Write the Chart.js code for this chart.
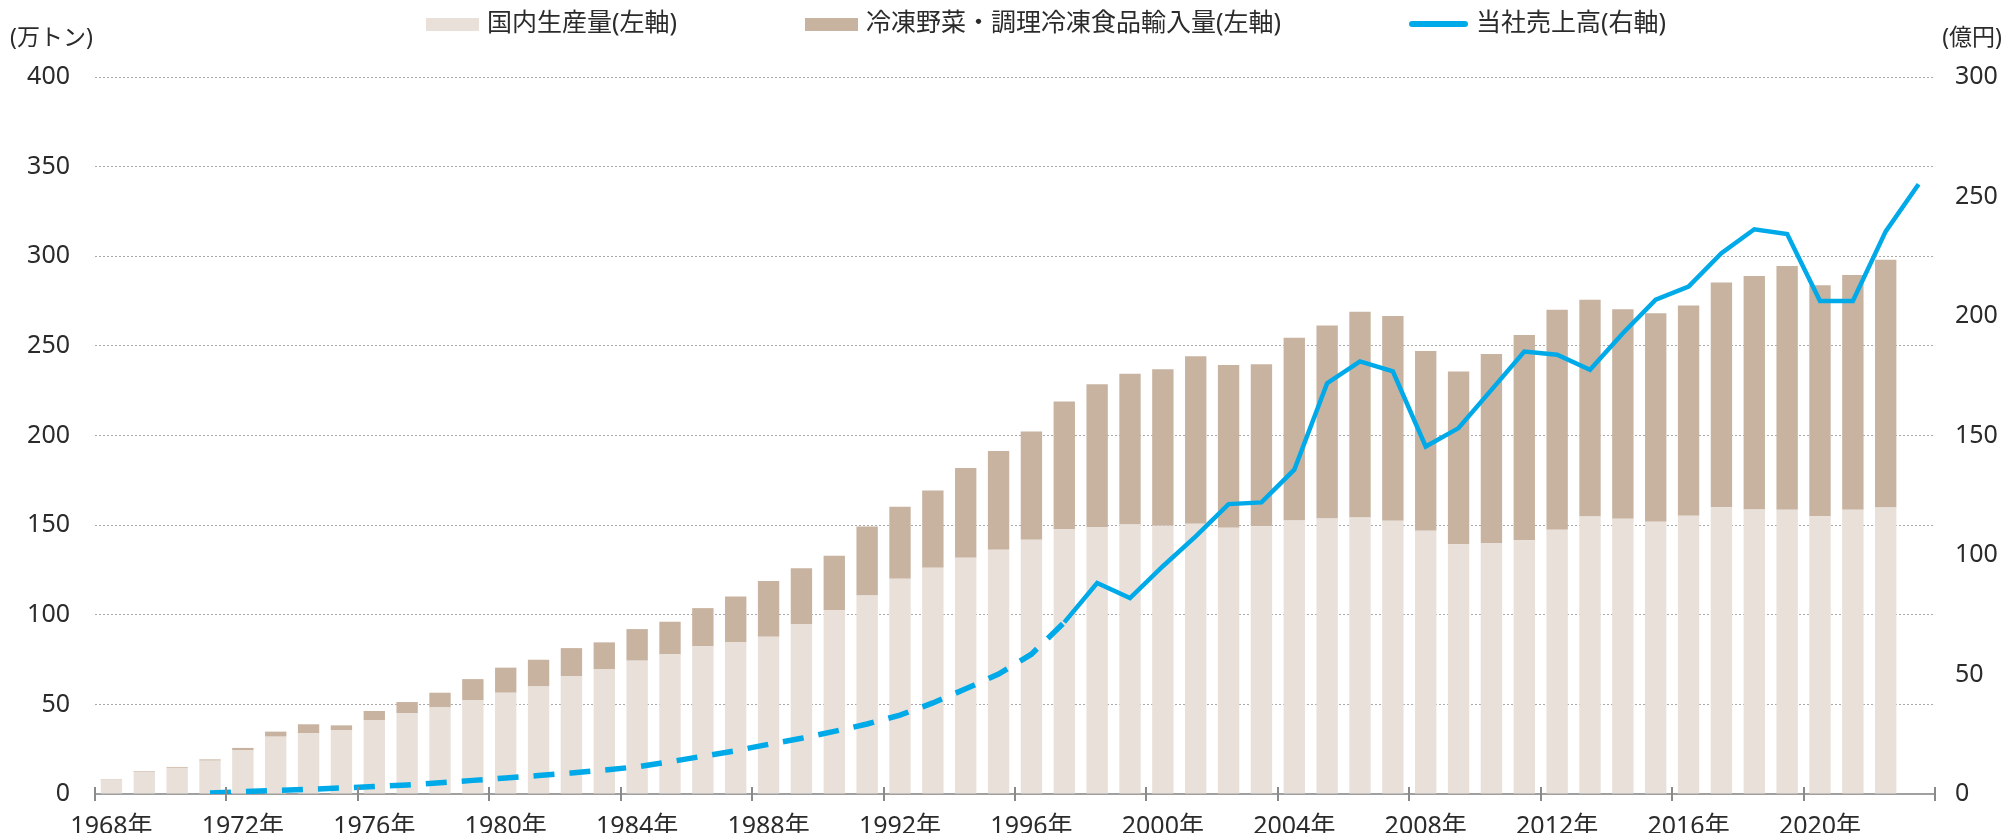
<!DOCTYPE html>
<html lang="ja">
<head>
<meta charset="utf-8">
<title>冷凍食品の国内生産量・輸入量と当社売上高</title>
<script src="https://cdn.jsdelivr.net/npm/chart.js@4.4.1/dist/chart.umd.min.js"></script>
<style>
  html, body { margin: 0; padding: 0; background: #fff; }
  .chart-box { position: relative; width: 2008px; height: 834px; }
</style>
</head>
<body>
<div class="chart-box"><canvas id="chartMain" width="2008" height="834"></canvas></div>
<script>
// データ（左軸：万トン / 右軸：億円）
const years = [
  '1968年','1969年','1970年','1971年','1972年','1973年','1974年','1975年',
  '1976年','1977年','1978年','1979年','1980年','1981年','1982年','1983年',
  '1984年','1985年','1986年','1987年','1988年','1989年','1990年','1991年',
  '1992年','1993年','1994年','1995年','1996年','1997年','1998年','1999年',
  '2000年','2001年','2002年','2003年','2004年','2005年','2006年','2007年',
  '2008年','2009年','2010年','2011年','2012年','2013年','2014年','2015年',
  '2016年','2017年','2018年','2019年','2020年','2021年','2022年','2023年'
];

// 国内生産量
const domestic = [
  8.0, 12.4, 14.6, 18.6, 24.5, 32.0, 33.8, 35.7,
  41.1, 45.0, 48.3, 52.4, 56.5, 60.0, 65.8, 69.7,
  74.4, 77.9, 82.4, 84.8, 87.7, 94.8, 102.6, 110.8,
  120.1, 126.2, 131.8, 136.2, 141.8, 147.9, 148.9, 150.4,
  149.6, 150.7, 148.5, 149.4, 152.6, 153.7, 154.3, 152.4,
  146.8, 139.4, 140.0, 141.6, 147.4, 154.8, 153.5, 151.9,
  155.2, 160.0, 158.7, 158.6, 155.0, 158.6, 159.8, null
];

// 冷凍野菜・調理冷凍食品輸入量
const imports = [
  0.3, 0.4, 0.5, 0.7, 1.2, 2.8, 5.1, 2.6,
  5.2, 6.3, 8.2, 11.7, 14.0, 14.9, 15.6, 14.9,
  17.6, 18.2, 21.3, 25.4, 31.1, 31.2, 30.3, 38.5,
  40.1, 43.1, 50.0, 55.1, 60.4, 71.0, 79.7, 84.0,
  87.4, 93.5, 90.9, 90.4, 102.0, 107.6, 114.8, 114.3,
  100.4, 96.3, 105.5, 114.5, 122.7, 120.9, 116.9, 116.3,
  117.3, 125.3, 130.3, 136.0, 128.8, 131.0, 138.2, null
];

// 当社売上高
const sales = [
  null, null, null, 0.4, 1.0, 1.5, 2.0, 2.5,
  3.1, 3.8, 4.7, 5.7, 6.7, 7.7, 8.8, 10.0,
  11.4, 13.5, 15.8, 18.1, 20.8, 23.3, 26.2, 29.3,
  33.0, 38.1, 44.0, 50.2, 58.5, 71.8, 88.3, 82.0,
  95.3, 107.8, 121.3, 122.0, 135.7, 171.9, 181.0, 176.8,
  145.4, 153.1, 169.1, 185.1, 183.8, 177.5, 192.8, 206.8,
  212.3, 226.3, 236.3, 234.3, 206.3, 206.3, 235.4, 255.1
];

const dashedUntil = '1997年';   // ここまで破線
const tickEvery = 4;            // 年ラベルの間隔

const FONT = '"Noto Sans", "Noto Sans CJK JP", sans-serif';
const COLORS = {
  domestic: '#e8e0d9',
  imports: '#c8b3a0',
  sales: '#00aae9',
  text: '#2b2b2b',
  grid: '#a9a9a9',
  axis: '#a0a0a0',
  tick: '#8a8a8a'
};

Chart.defaults.font.family = FONT;
Chart.defaults.color = COLORS.text;

const dashIdx = years.indexOf(dashedUntil);

// 凡例・単位・x軸の目盛り
const decorPlugin = {
  id: 'decor',
  afterDraw(chart) {
    const { ctx, chartArea, scales } = chart;
    ctx.save();

    // x軸の目盛り（軸線をまたぐ短い線）
    const xs = scales.x;
    const half = (xs.getPixelForValue(1) - xs.getPixelForValue(0)) / 2;
    ctx.strokeStyle = COLORS.tick;
    ctx.lineWidth = 2;
    for (let i = 0; i <= years.length; i += tickEvery) {
      const px = i < years.length ? xs.getPixelForValue(i) - half : xs.getPixelForValue(years.length - 1) + half;
      ctx.beginPath();
      ctx.moveTo(Math.round(px), chartArea.bottom - 7);
      ctx.lineTo(Math.round(px), chartArea.bottom + 7);
      ctx.stroke();
    }

    // 単位
    ctx.fillStyle = COLORS.text;
    ctx.textBaseline = 'middle';
    ctx.font = `23px ${FONT}`;
    ctx.textAlign = 'left';
    ctx.fillText('(万トン)', 10, 38);
    ctx.textAlign = 'right';
    ctx.fillText('(億円)', chart.width - 6, 38);

    // 凡例
    ctx.font = `25px ${FONT}`;
    ctx.textAlign = 'left';
    const items = chart.data.datasets.map(ds => ({
      text: ds.label,
      line: ds.type === 'line',
      color: ds.type === 'line' ? ds.borderColor : ds.backgroundColor
    }));
    const swGap = 8, itemGap = 128, legendY = 24;
    items.forEach(it => { it.sw = it.line ? 59 : 53; it.w = it.sw + swGap + ctx.measureText(it.text).width; });
    const total = items.reduce((a, it) => a + it.w, 0) + itemGap * (items.length - 1);
    let cx = chart.width / 2 + 42 - total / 2;
    items.forEach(it => {
      if (it.line) {
        ctx.strokeStyle = it.color; ctx.lineWidth = 6; ctx.lineCap = 'round';
        ctx.beginPath(); ctx.moveTo(cx + 3, legendY); ctx.lineTo(cx + it.sw - 3, legendY); ctx.stroke();
      } else {
        ctx.fillStyle = it.color;
        ctx.fillRect(cx, legendY - 6, it.sw, 13);
      }
      ctx.fillStyle = COLORS.text;
      ctx.fillText(it.text, cx + it.sw + swGap, legendY);
      cx += it.w + itemGap;
    });

    ctx.restore();
  }
};

new Chart(document.getElementById('chartMain'), {
  data: {
    labels: years,
    datasets: [
      { type: 'bar', label: '国内生産量(左軸)', data: domestic, backgroundColor: COLORS.domestic,
        yAxisID: 'y', stack: 'vol', order: 2, categoryPercentage: 1, barPercentage: 0.65 },
      { type: 'bar', label: '冷凍野菜・調理冷凍食品輸入量(左軸)', data: imports, backgroundColor: COLORS.imports,
        yAxisID: 'y', stack: 'vol', order: 2, categoryPercentage: 1, barPercentage: 0.65 },
      { type: 'line', label: '当社売上高(右軸)', data: sales, yAxisID: 'y1', order: 1,
        borderColor: COLORS.sales, backgroundColor: COLORS.sales, borderWidth: 4.5,
        pointRadius: 0, tension: 0, borderJoinStyle: 'miter',
        segment: {
          borderDash: c => c.p1DataIndex <= dashIdx ? [21, 15] : undefined,
          borderWidth: c => c.p1DataIndex <= dashIdx ? 5.5 : undefined
        } }
    ]
  },
  options: {
    responsive: false,
    animation: false,
    devicePixelRatio: 1,
    layout: { padding: { top: 77, left: 0, right: 0, bottom: 0 } },
    plugins: { legend: { display: false }, tooltip: { enabled: false } },
    scales: {
      x: {
        stacked: true,
        offset: true,
        grid: { display: false },
        border: { display: true, color: COLORS.axis, width: 2 },
        ticks: {
          autoSkip: false, maxRotation: 0, padding: 10, font: { size: 25 },
          callback: (v, i) => i % tickEvery === 0 ? years[i] : ''
        },
        afterFit: s => { s.height = 39; }
      },
      y: {
        position: 'left', stacked: true, min: 0, max: 400,
        ticks: { stepSize: 50, padding: 25, font: { size: 25 } },
        grid: { color: COLORS.grid, drawTicks: false, lineWidth: 1 },
        border: { display: false, dash: [2, 2] },
        afterFit: s => { s.width = 95; }
      },
      y1: {
        position: 'right', min: 0, max: 300,
        ticks: { stepSize: 50, padding: 20, font: { size: 25 } },
        grid: { drawOnChartArea: false, drawTicks: false },
        border: { display: false },
        afterFit: s => { s.width = 73; }
      }
    }
  },
  plugins: [decorPlugin]
});
</script>
</body>
</html>
